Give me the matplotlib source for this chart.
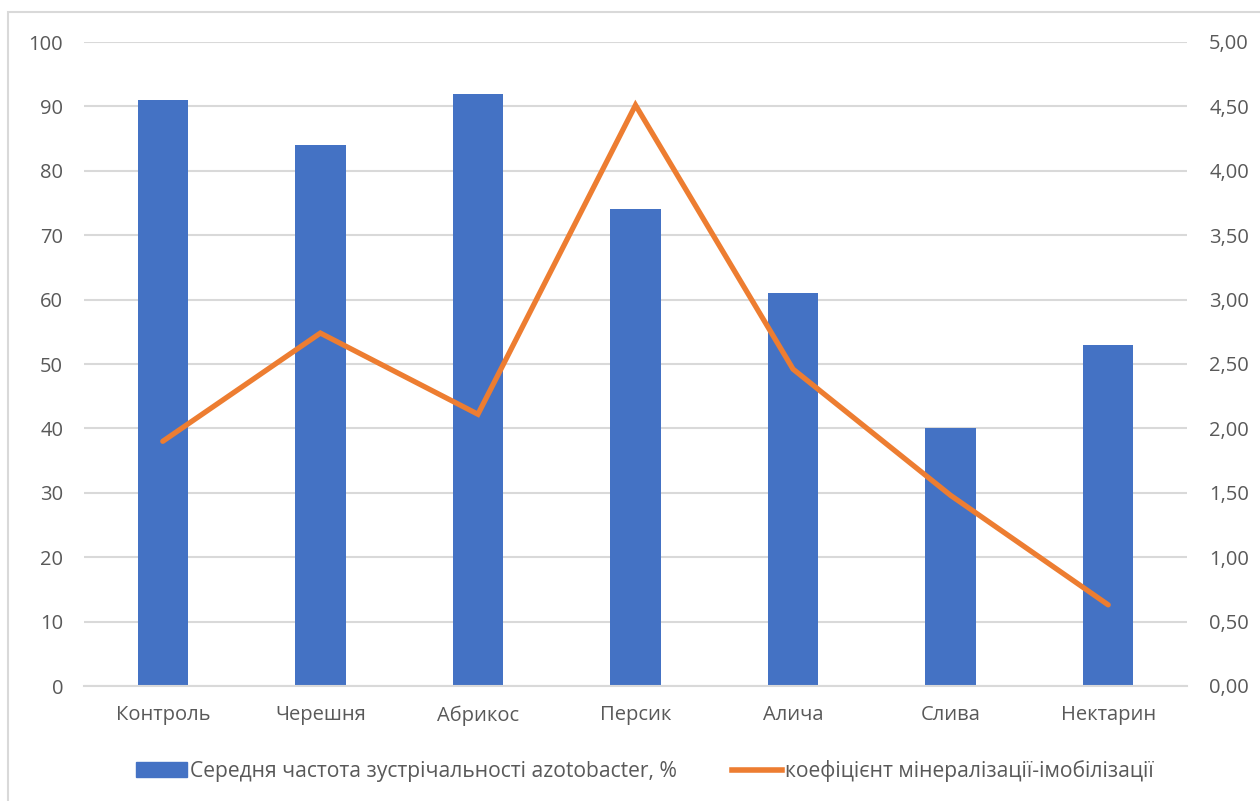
import matplotlib.pyplot as plt
from matplotlib.patches import Rectangle
from matplotlib.lines import Line2D
from matplotlib.ticker import FuncFormatter
import numpy as np

categories = ['Контроль', 'Черешня', 'Абрикос', 'Персик', 'Алича', 'Слива', 'Нектарин']
frequency = [91, 84, 92, 74, 61, 40, 53]
coefficient = [1.90, 2.74, 2.11, 4.51, 2.46, 1.48, 0.63]

bar_label = 'Середня частота зустрічальності azotobacter, %'
line_label = 'коефіцієнт мінералізації-імобілізації'

plt.rcParams['font.family'] = ['Open Sans', 'DejaVu Sans']
text_color = '#595959'
grid_color = '#D9D9D9'

fig = plt.figure(figsize=(12.6, 8.01), dpi=100)

# light frame around the chart
fig.patches.append(Rectangle((8 / 1260, -0.01), 1.02, 1 - 12 / 801 + 0.01,
                             transform=fig.transFigure, fill=False,
                             edgecolor=grid_color, linewidth=1.5))

ax = fig.add_axes([84 / 1260, 1 - 686 / 801, (1187 - 84) / 1260, (686 - 42) / 801])
x = np.arange(len(categories))

ax.bar(x, frequency, width=0.32, color='#4472C4', zorder=2)
ax.set_xlim(-0.5, len(categories) - 0.5)
ax.set_ylim(0, 100)
ax.set_yticks(np.arange(0, 101, 10))
ax.yaxis.grid(True, color=grid_color, linewidth=1.5, zorder=0)
ax.set_axisbelow(True)
ax.set_xticks(x)
ax.set_xticklabels(categories)
for s in ['top', 'right', 'left']:
    ax.spines[s].set_visible(False)
ax.spines['bottom'].set_color(grid_color)
ax.spines['bottom'].set_linewidth(1.5)
ax.tick_params(axis='both', length=0, labelsize=14.5, colors=text_color)
ax.tick_params(axis='y', pad=15)
ax.tick_params(axis='x', pad=14)

ax2 = ax.twinx()
ax2.plot(x, coefficient, color='#ED7D31', linewidth=3.8, solid_capstyle='round',
         solid_joinstyle='miter', zorder=3)
ax2.set_ylim(0, 5)
ax2.set_yticks(np.arange(0, 5.01, 0.5))
ax2.yaxis.set_major_formatter(FuncFormatter(lambda v, _: f'{v:.2f}'.replace('.', ',')))
for s in ax2.spines.values():
    s.set_visible(False)
ax2.tick_params(axis='y', length=0, labelsize=14.5, colors=text_color, pad=16)

handles = [Rectangle((0, 0), 1, 1, color='#4472C4'),
           Line2D([0], [0], color='#ED7D31', linewidth=4)]
fig.legend(handles, [bar_label, line_label], loc='center',
           bbox_to_anchor=(645 / 1260, 1 - 771 / 801), ncol=2, frameon=False,
           fontsize=15.2, labelcolor=text_color, handlelength=2.4,
           handletextpad=0.15, columnspacing=2.6)

fig.savefig('out.png', dpi=100)
